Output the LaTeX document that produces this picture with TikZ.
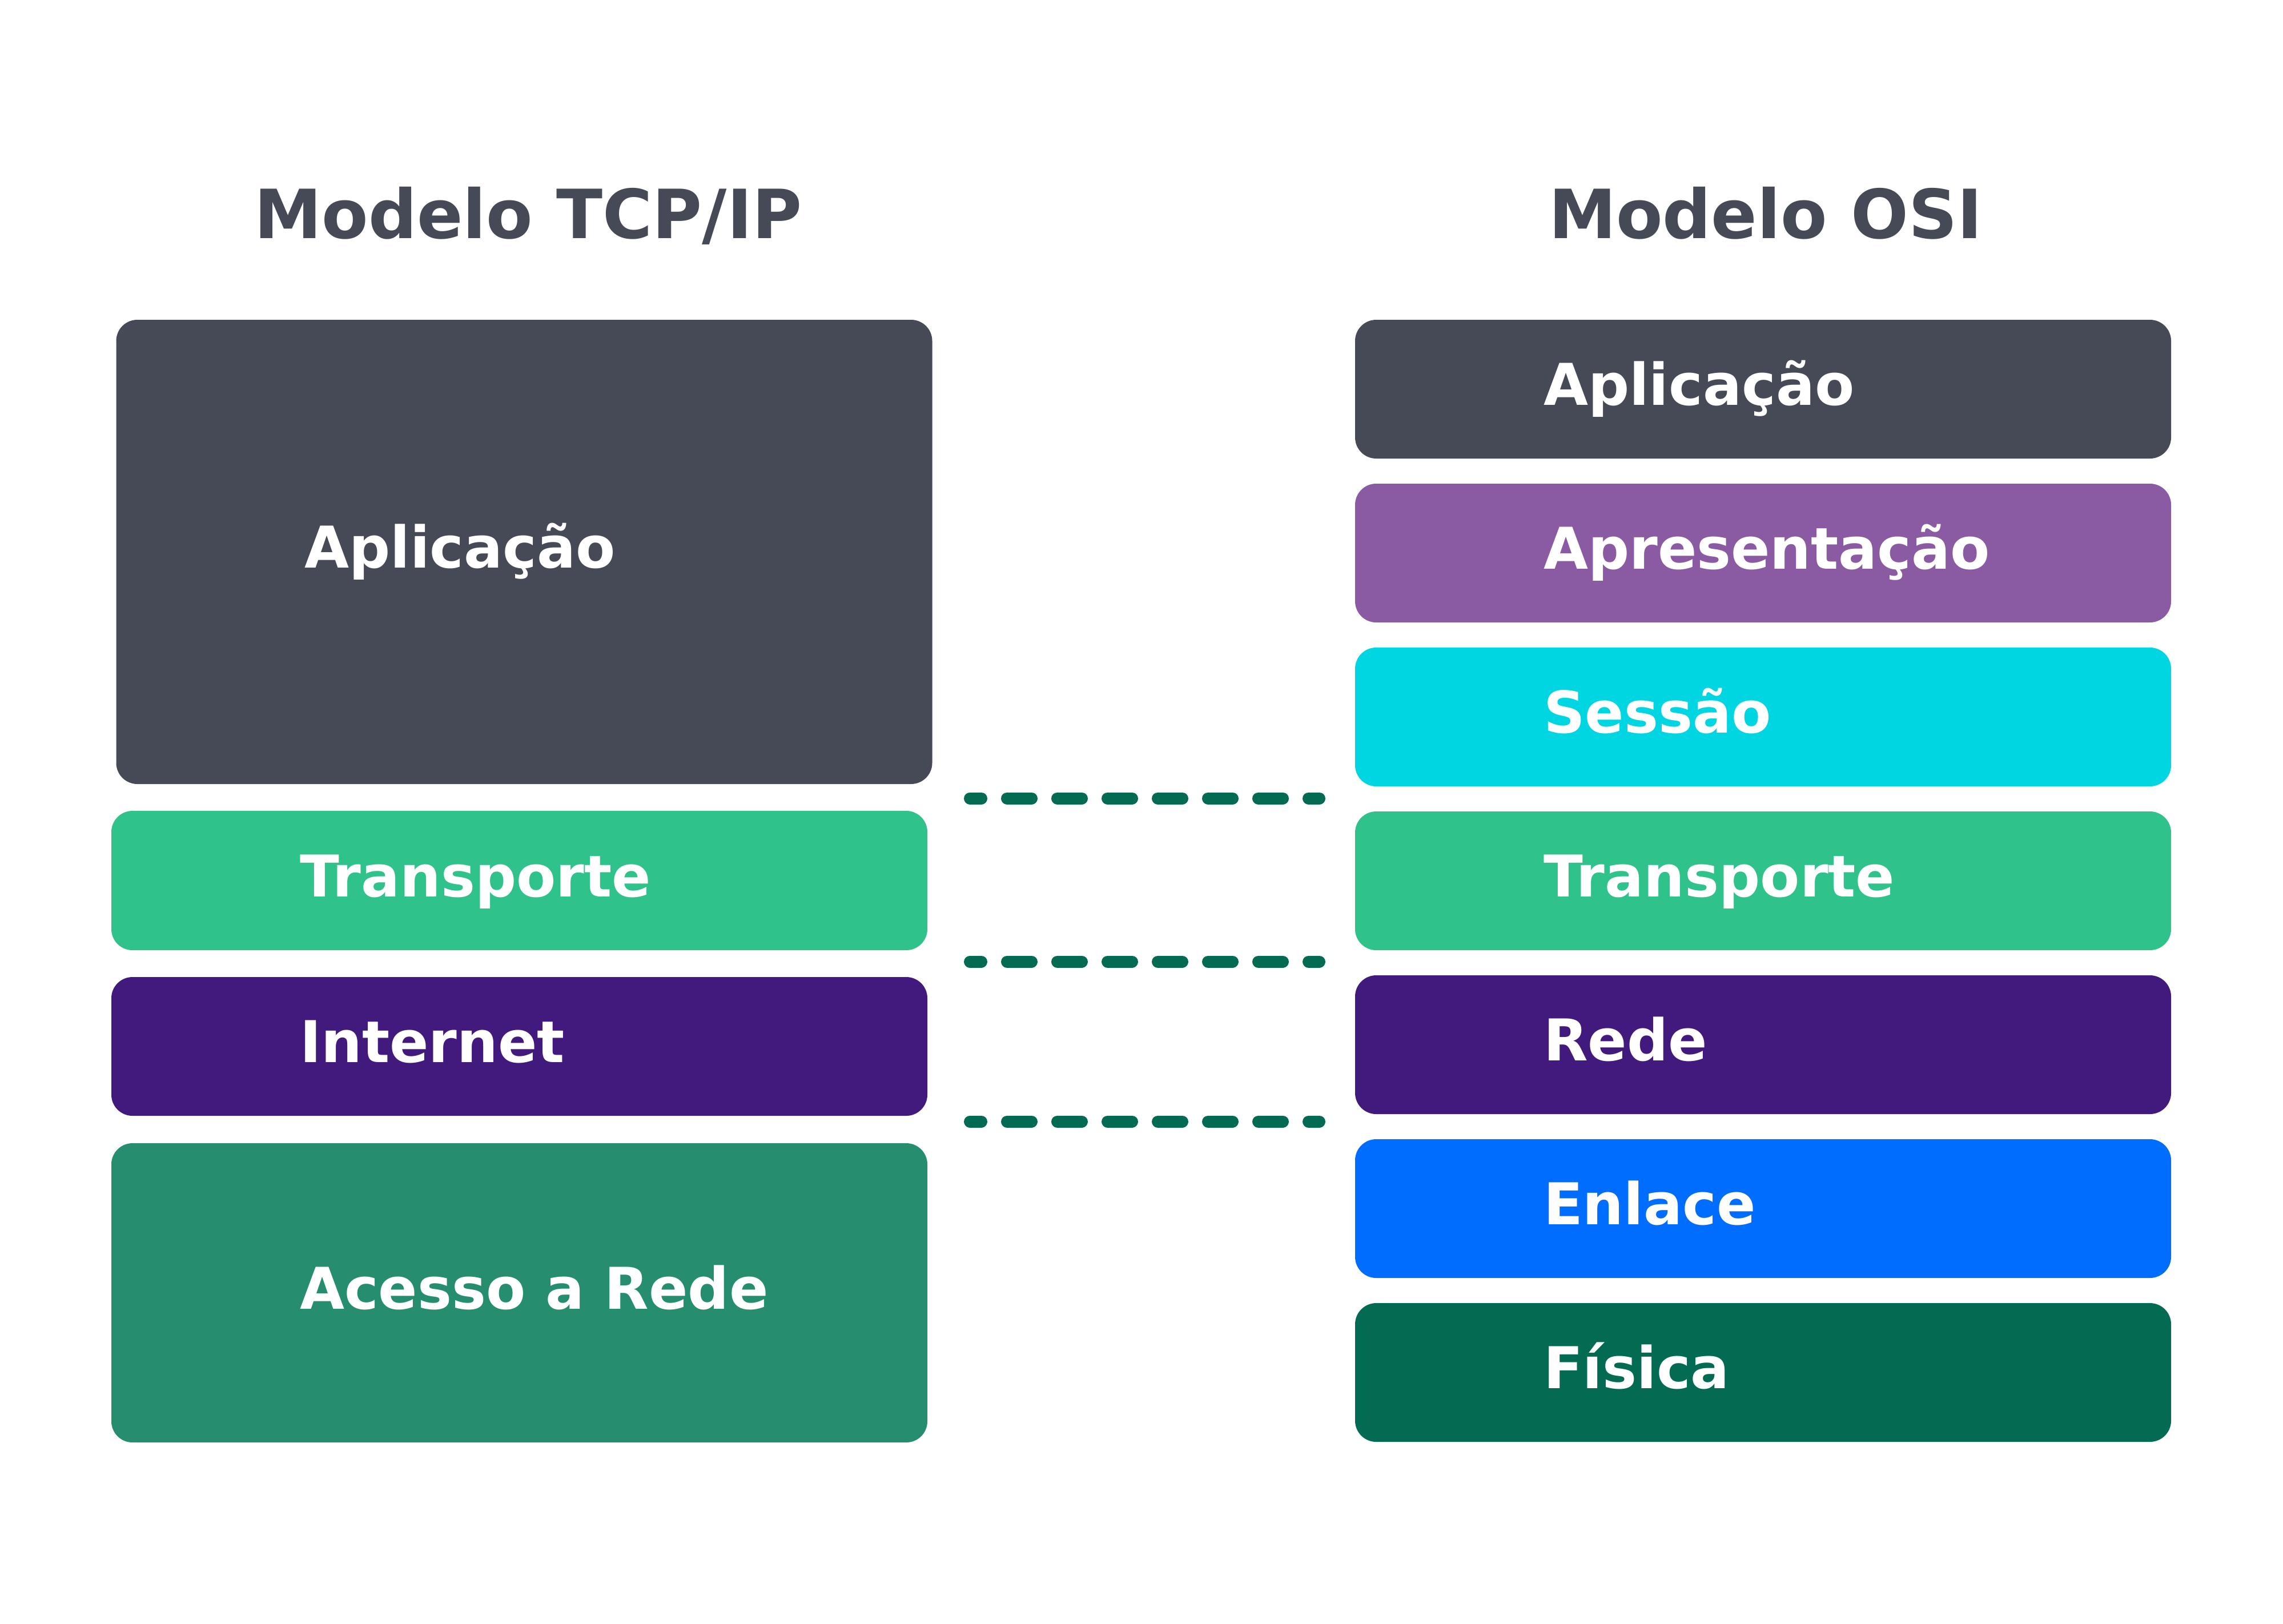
\documentclass[tikz,border=0pt]{standalone}
\usepackage{fontspec}
\setmainfont{DejaVu Sans}
\usepackage{tikz}
\usetikzlibrary{calc,positioning}
\definecolor{cinza}{HTML}{464A57}
\definecolor{roxo}{HTML}{8A5AA2}
\definecolor{ciano}{HTML}{00D6E2}
\definecolor{verde}{HTML}{30C28B}
\definecolor{anil}{HTML}{42197C}
\definecolor{azul}{HTML}{006DFE}
\definecolor{verdeesc}{HTML}{046B53}
\definecolor{verdemed}{HTML}{268E6F}
\begin{document}
\begin{tikzpicture}[
  camada/.style={rectangle,rounded corners=0.37cm,inner sep=0pt,minimum width=14.29cm,minimum height=2.43cm},
  nome/.style={anchor=base west,inner sep=0pt,text=white,font=\fontsize{28.7}{34}\selectfont\bfseries},
  titulo/.style={anchor=base,inner sep=0pt,text=cinza,font=\fontsize{33.8}{40}\selectfont\bfseries},
  tracejado/.style={verdeesc,line width=0.21cm,line cap=round,dash pattern=on 0.43cm off 0.45cm,dash phase=0.23cm}]
\fill[white] (0,0) rectangle (39.98,-28.43);
\useasboundingbox (0,0) rectangle (39.98,-28.43);
\node[titulo] (ttcp) at (9.25,-4.17) {Modelo TCP/IP};
\node[titulo] (tosi) at (30.92,-4.17) {Modelo OSI};
\node[camada,fill=cinza,minimum height=8.13cm] (tcpapp) at (9.18,-9.665) {};
\node[camada,fill=verde,minimum height=2.44cm] (tcptrans) at (9.095,-15.42) {};
\node[camada,fill=anil] (tcpnet) at (9.095,-18.325) {};
\node[camada,fill=verdemed,minimum height=5.24cm] (tcpacc) at (9.095,-22.64) {};
\node[camada,fill=cinza] (osiapp) at (30.875,-6.815) {};
\node[camada,fill=roxo] (osiapr) at (30.875,-9.685) {};
\node[camada,fill=ciano] (osises) at (30.875,-12.555) {};
\node[camada,fill=verde] (ositrans) at (30.875,-15.425) {};
\node[camada,fill=anil] (osirede) at (30.875,-18.295) {};
\node[camada,fill=azul] (osienl) at (30.875,-21.165) {};
\node[camada,fill=verdeesc] (osifis) at (30.875,-24.035) {};
\node[nome] at ([xshift=3.30cm,yshift=-0.28cm]tcpapp.west) {Aplicação};
\node[nome] at ([xshift=3.30cm,yshift=-0.28cm]tcptrans.west) {Transporte};
\node[nome] at ([xshift=3.30cm,yshift=-0.28cm]tcpnet.west) {Internet};
\node[nome] at ([xshift=3.30cm,yshift=-0.28cm]tcpacc.west) {Acesso a Rede};
\node[nome] at ([xshift=3.30cm,yshift=-0.28cm]osiapp.west) {Aplicação};
\node[nome] at ([xshift=3.30cm,yshift=-0.28cm]osiapr.west) {Apresentação};
\node[nome] at ([xshift=3.30cm,yshift=-0.28cm]osises.west) {Sessão};
\node[nome] at ([xshift=3.30cm,yshift=-0.28cm]ositrans.west) {Transporte};
\node[nome] at ([xshift=3.30cm,yshift=-0.28cm]osirede.west) {Rede};
\node[nome] at ([xshift=3.30cm,yshift=-0.28cm]osienl.west) {Enlace};
\node[nome] at ([xshift=3.30cm,yshift=-0.28cm]osifis.west) {Física};
\coordinate (e1) at (16.985,-13.98);
\coordinate (d1) at (23.105,-13.98);
\coordinate (e2) at (16.985,-16.84);
\coordinate (d2) at (23.105,-16.84);
\coordinate (e3) at (16.985,-19.64);
\coordinate (d3) at (23.105,-19.64);
\draw[tracejado] (e1) -- (d1);
\draw[tracejado] (e2) -- (d2);
\draw[tracejado] (e3) -- (d3);
\end{tikzpicture}
\end{document}
